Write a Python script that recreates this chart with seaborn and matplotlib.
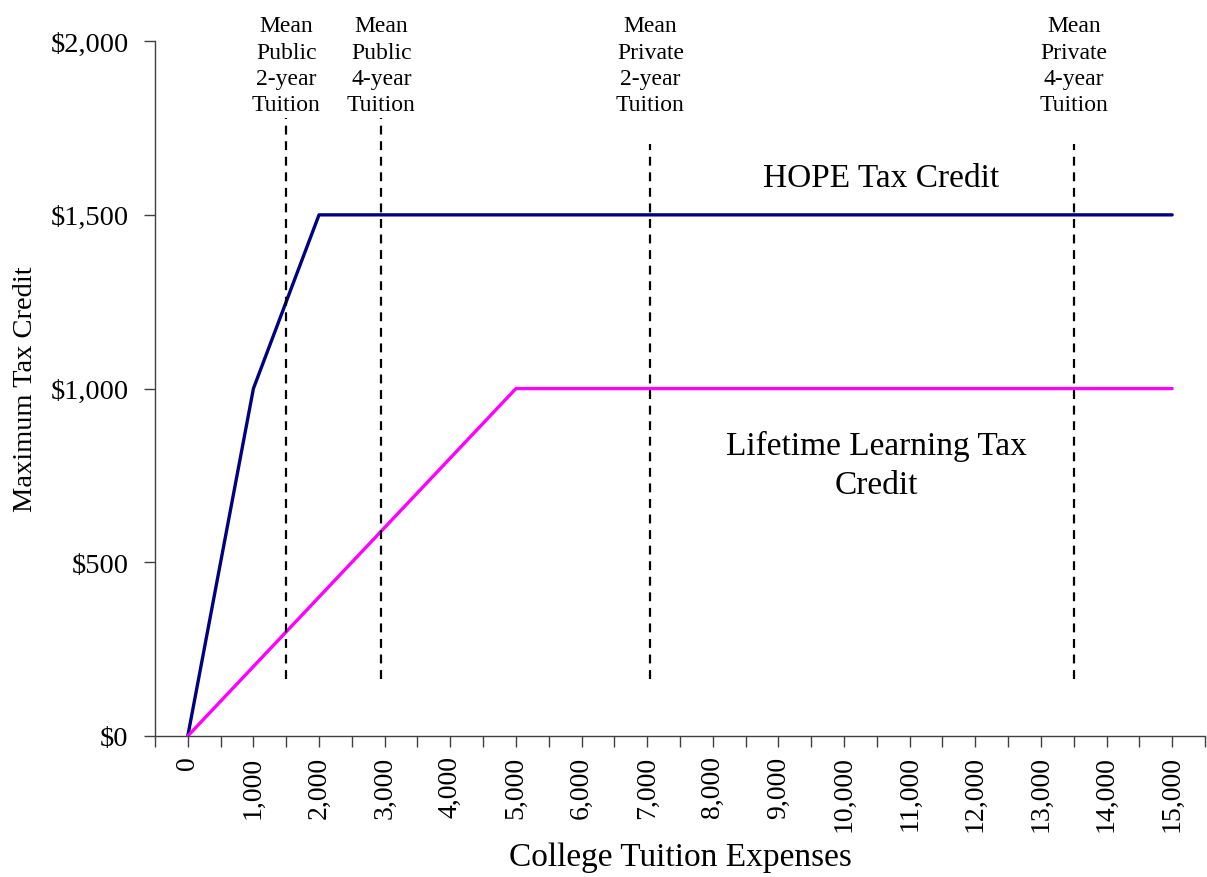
import numpy as np
import pandas as pd
import matplotlib
matplotlib.use("Agg")
import matplotlib.pyplot as plt
import matplotlib.transforms as mtransforms
import seaborn as sns

# credit schedules (tuition expense -> max credit)
hope_x = [0, 1000, 2000, 15000]
hope_y = [0, 1000, 1500, 1500]
llc_x = [0, 5000, 15000]
llc_y = [0, 1000, 1000]

# mean tuition markers
tuition_x = [1500, 2950, 7050, 13500]
tuition_top = [1780, 1780, 1705, 1705]
tuition_bottom = 165
tuition_labels = ["Mean\nPublic\n2-year\nTuition", "Mean\nPublic\n4-year\nTuition",
                  "Mean\nPrivate\n2-year\nTuition", "Mean\nPrivate\n4-year\nTuition"]

sns.set_style("white")
plt.rcParams['font.family'] = ['Liberation Serif', 'DejaVu Serif']
plt.rcParams['text.color'] = 'black'
plt.rcParams['axes.labelcolor'] = 'black'
plt.rcParams['xtick.color'] = 'black'
plt.rcParams['ytick.color'] = 'black'

df = pd.concat([
    pd.DataFrame({"x": hope_x, "y": hope_y, "s": "HOPE"}),
    pd.DataFrame({"x": llc_x, "y": llc_y, "s": "LLC"}),
])

fig, ax = plt.subplots(figsize=(12.07, 8.78), dpi=100)
fig.subplots_adjust(left=0.1284, right=0.9983, top=0.952, bottom=0.1606)

sns.lineplot(data=df, x="x", y="y", hue="s", palette={"HOPE": "#000080", "LLC": "#FF00FF"},
             linewidth=2.4, legend=False, ax=ax, sort=False)

for x, top in zip(tuition_x, tuition_top):
    ax.plot([x, x], [tuition_bottom, top], color="black", linestyle=(0, (4, 3)), linewidth=1.6)

trans = mtransforms.blended_transform_factory(ax.transData, ax.transAxes)
for x, lab in zip(tuition_x, tuition_labels):
    ax.text(x, 1.037, lab, transform=trans, ha="center", va="top", fontsize=17,
            linespacing=1.33, clip_on=False)

ax.text(10560, 1608, "HOPE Tax Credit", ha="center", va="center", fontsize=24)
ax.text(10500, 780, "Lifetime Learning Tax\nCredit", ha="center", va="center", fontsize=24,
        linespacing=1.4)

ax.set_xlim(-500, 15500)
ax.set_ylim(0, 2000)
ax.xaxis.remove_overlapping_locs = False
ax.set_xticks(np.arange(0, 15001, 1000))
ax.set_xticklabels([f"{v:,}" for v in range(0, 15001, 1000)], rotation=90, fontsize=20)
ax.set_xticks(np.arange(-500, 15501, 500), minor=True)
ax.tick_params(axis="x", which="major", length=0, pad=14)
ax.tick_params(axis="x", which="minor", length=8, width=1, color="#404040", direction="out", bottom=True)
ax.set_yticks(np.arange(0, 2001, 500))
ax.set_yticklabels([f"${v:,}" for v in range(0, 2001, 500)], fontsize=20.5)
ax.tick_params(axis="y", length=8, width=1, color="#404040", direction="out", left=True, pad=11)

for side in ["top", "right"]:
    ax.spines[side].set_visible(False)
for side in ["left", "bottom"]:
    ax.spines[side].set_color("#404040")
    ax.spines[side].set_linewidth(1)

ax.set_xlabel("College Tuition Expenses", fontsize=24, labelpad=7)
ax.set_ylabel("Maximum Tax Credit", fontsize=20.5, labelpad=9)

fig.savefig("out.png", dpi=100)
